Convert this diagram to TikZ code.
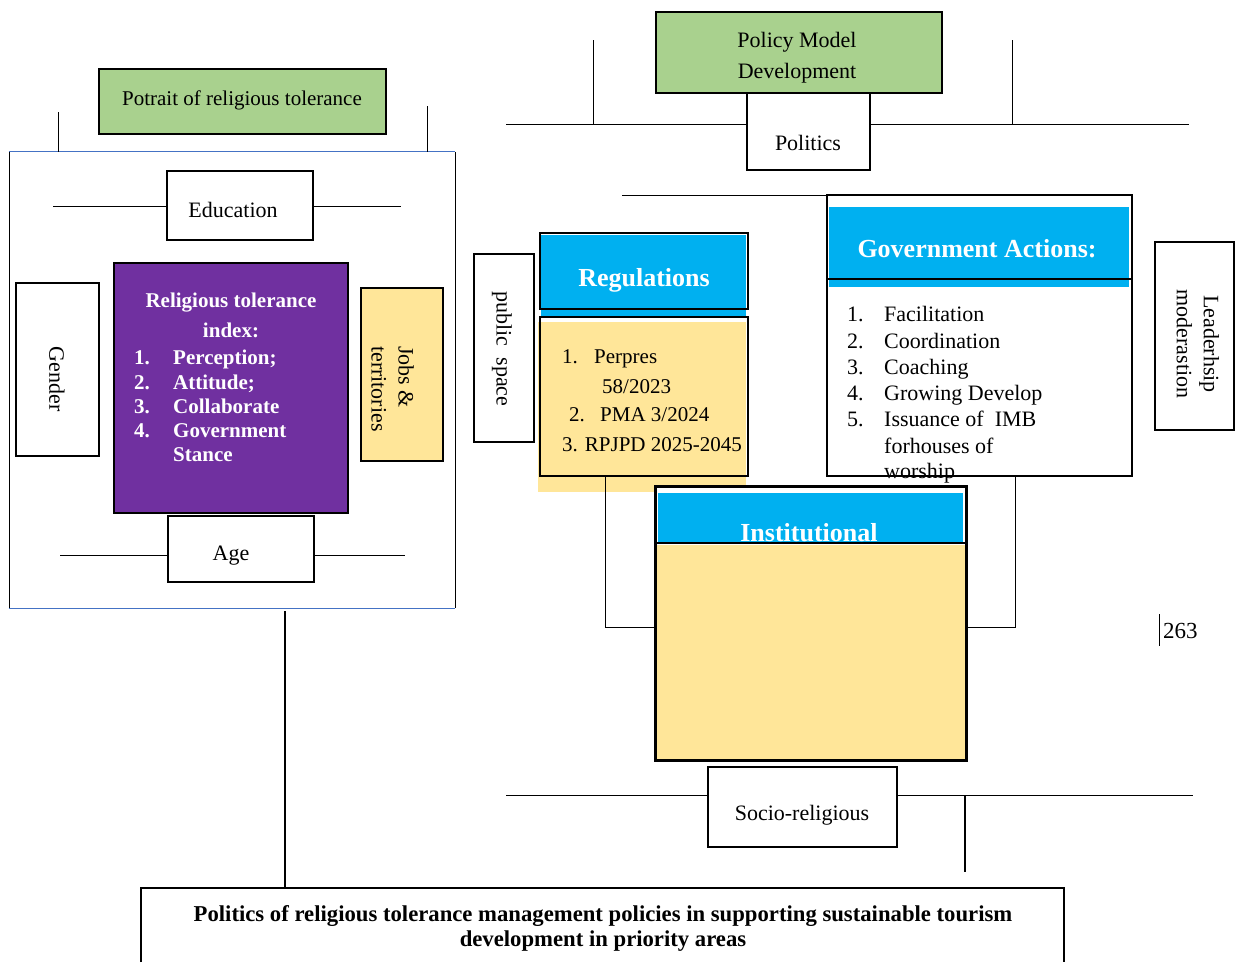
\documentclass[tikz,border=0pt]{standalone}
\usepackage{fontspec}
\setmainfont{Liberation Serif}
\definecolor{tgreen}{HTML}{A9D18E}
\definecolor{tpurple}{HTML}{7030A0}
\definecolor{tyellow}{HTML}{FFE699}
\definecolor{tblue}{HTML}{00B0F0}
\definecolor{tframe}{HTML}{4472C4}
\begin{document}
\begin{tikzpicture}[x=1pt,y=-1pt,
  box/.style={draw=black, line width=1.6pt, inner sep=0pt},
  conn/.style={line width=0.8pt, black},
  txt/.style={inner sep=0pt, font=\fontsize{22}{27}\selectfont},
  txtl/.style={inner sep=0pt, anchor=base west, font=\fontsize{22}{27}\selectfont},
  btxt/.style={inner sep=0pt, text=white, font=\bfseries\fontsize{26}{30}\selectfont},
  ptxt/.style={inner sep=0pt, text=white, anchor=base west, font=\bfseries\fontsize{21}{24}\selectfont}]
\useasboundingbox (0,0) rectangle (1236,962);
\fill[white] (0,0) rectangle (1236,962);

% ---------------- left part ----------------
\node[box, fill=tgreen, minimum width=287, minimum height=65] (potrait) at (242.5,101.5) {};
\node[txt, font=\fontsize{21}{25}\selectfont] (potraitT) at (242,100) {Potrait of religious tolerance};

\node[minimum width=446, minimum height=456, inner sep=0pt] (frame) at (232,380) {};
\draw[tframe, line width=0.8pt] (frame.north west) -- (frame.north east);
\draw[tframe, line width=0.8pt] (frame.south west) -- (frame.south east);
\draw[conn, line width=0.6pt] (frame.north west) -- (frame.south west);
\draw[conn, line width=0.6pt] (frame.north east) -- (frame.south east);
\coordinate (tk1) at (58,112);
\coordinate (tk2) at (427,106);
\draw[conn] (tk1) -- (tk1 |- frame.north);
\draw[conn] (tk2) -- (tk2 |- frame.north);

\node[box, fill=white, minimum width=146, minimum height=69] (edu) at (240,205.5) {};
\node[txt] (eduT) at (233,210) {Education};
\coordinate (el) at (53,206);
\coordinate (er) at (401,206);
\draw[conn] (el) -- (el -| edu.west);
\draw[conn] (edu.east |- er) -- (er);

\node[box, fill=tpurple, minimum width=234, minimum height=250] (idx) at (231,388) {};
\node[inner sep=0pt, text=white, font=\bfseries\fontsize{21}{24}\selectfont, anchor=base] (idxT1) at (231,307) {Religious tolerance};
\node[inner sep=0pt, text=white, font=\bfseries\fontsize{21}{24}\selectfont, anchor=base] (idxT2) at (231,337) {index:};
\node[ptxt] (i1n) at (134,364) {1.};
\node[ptxt] (i1) at (173,364) {Perception;};
\node[ptxt] (i2n) at (134,389) {2.};
\node[ptxt] (i2) at (173,389) {Attitude;};
\node[ptxt] (i3n) at (134,413) {3.};
\node[ptxt] (i3) at (173,413) {Collaborate};
\node[ptxt] (i4n) at (134,437) {4.};
\node[ptxt] (i4) at (173,437) {Government};
\node[ptxt] (i5) at (173,461) {Stance};

\node[box, fill=white, minimum width=83, minimum height=173] (gender) at (57.5,369.5) {};
\node[txt, rotate=-90] (genderT) at (57,379) {Gender};

\node[box, fill=tyellow, minimum width=82, minimum height=173] (jobs) at (402,374.5) {};
\node[txt, rotate=-90, align=left, anchor=north west, font=\fontsize{22}{27}\selectfont] (jobsT) at (414,346) {Jobs \&\\territories};

\node[box, fill=white, minimum width=146, minimum height=66] (age) at (241,549) {};
\node[txt] (ageT) at (231,556) {Age};
\coordinate (al) at (60,555);
\coordinate (ar) at (405,555);
\draw[conn] (al) -- (al -| age.west);
\draw[conn] (age.east |- ar) -- (ar);

% ---------------- bottom box ----------------
\node[minimum width=923, minimum height=74, inner sep=0pt] (goal) at (602.5,925) {};
\draw[line width=1.8pt] (goal.south west) -- (goal.north west) -- (goal.north east) -- (goal.south east);
\node[inner sep=0pt, align=center, font=\bfseries\fontsize{22.7}{25}\selectfont] (goalT) at (603,928)
  {Politics of religious tolerance management policies in supporting sustainable tourism\\development in priority areas};
\coordinate (v1) at (285,611);
\draw[line width=1.6pt] (v1) -- (v1 |- goal.north);

% ---------------- top right ----------------
\coordinate (pl) at (506,124);
\coordinate (pr) at (1189,124);
\coordinate (vl) at (593,40);
\coordinate (vr) at (1012,40);
\draw[conn] (vl) -- (vl |- pl);
\draw[conn] (vr) -- (vr |- pr);
\node[box, fill=tgreen, minimum width=286, minimum height=81] (policy) at (799,52.5) {};
\node[txt, align=center, font=\fontsize{22}{31}\selectfont] (policyT) at (797,58) {Policy Model\\Development};
\node[box, fill=white, minimum width=123, minimum height=77] (politics) at (808.5,131.5) {};
\node[txt] (politicsT) at (808,143) {Politics};
\draw[conn] (pl) -- (pl -| politics.west);
\draw[conn] (politics.east |- pr) -- (pr);

% ---------------- regulations ----------------
\fill[tyellow] (538,322) rectangle (746,492);
\fill[tblue] (541,235) rectangle (746,317);
\node[box, minimum width=208, minimum height=76] (reghead) at (644,271) {};
\node[box, minimum width=208, minimum height=159] (regbody) at (644,396.5) {};
\node[btxt] (regT) at (644,280) {Regulations};
\node[txtl, font=\fontsize{21}{25}\selectfont] (r1n) at (562,363) {1.};
\node[txtl, font=\fontsize{21}{25}\selectfont] (r1) at (594,363) {Perpres};
\node[txtl, font=\fontsize{21}{25}\selectfont] (r1b) at (602,393) {58/2023};
\node[txtl, font=\fontsize{21}{25}\selectfont] (r2n) at (569,421) {2.};
\node[txtl, font=\fontsize{21}{25}\selectfont] (r2) at (600,421) {PMA 3/2024};
\node[txtl, font=\fontsize{21}{25}\selectfont] (r3) at (562,451) {3. RPJPD 2025-2045};

\node[box, fill=white, minimum width=60, minimum height=188] (pub) at (504,348) {};
\node[txt, rotate=-90] (pubT) at (502,349) {public\ \ space};

% ---------------- government actions ----------------
\coordinate (gl) at (622,195);
\node[box, fill=white, minimum width=305, minimum height=281] (gov) at (979.5,335.5) {};
\draw[conn] (gl) -- (gl -| gov.west);
\fill[tblue] (829,207) rectangle (1129,287);
\draw[line width=1.6pt] (gov.west |- 0,279) -- (gov.east |- 0,279);
\node[btxt] (govT) at (977,249) {Government Actions:};
\node[txtl] (g1n) at (847,321) {1.};
\node[txtl] (g1) at (884,321) {Facilitation};
\node[txtl] (g2n) at (847,348) {2.};
\node[txtl] (g2) at (884,348) {Coordination};
\node[txtl] (g3n) at (847,374) {3.};
\node[txtl] (g3) at (884,374) {Coaching};
\node[txtl] (g4n) at (847,400) {4.};
\node[txtl] (g4) at (884,400) {Growing Develop};
\node[txtl] (g5n) at (847,426) {5.};
\node[txtl] (g5) at (884,426) {Issuance of\ \ IMB};
\node[txtl] (g6) at (884,453) {forhouses of};
\node[txtl] (g7) at (884,478) {worship};

\node[box, fill=white, minimum width=79, minimum height=188] (lead) at (1194.5,336) {};
\node[txt, rotate=-90, align=center] (leadT) at (1198,344) {Leaderhsip\\moderastion};

% ---------------- institutional ----------------
\node[box, fill=white, minimum width=310, minimum height=273] (inst) at (811,623.5) {};
\fill[tblue] (658,493) rectangle (963,543);
\node[btxt, anchor=base] (instT) at (809,541.5) {Institutional};
\fill[tyellow] (657,545) rectangle (965,759);
\draw[line width=1.6pt] (inst.west |- 0,543) -- (inst.east |- 0,543);
\draw[line width=1.6pt] (inst.north west) rectangle (inst.south east);

\coordinate (c1) at (605,627);
\coordinate (c2) at (1015,627);
\draw[conn] (regbody.south -| c1) -- (c1) -- (c1 -| inst.west);
\draw[conn] (gov.south -| c2) -- (c2) -- (c2 -| inst.east);

% ---------------- page number ----------------
\node[inner sep=0pt, anchor=west, font=\fontsize{23}{27}\selectfont] (pg) at (1163,631) {263};
\coordinate (pgt) at (1159,614);
\coordinate (pgb) at (1159,646);
\draw[conn] (pgt) -- (pgb);

% ---------------- socio-religious ----------------
\node[box, fill=white, minimum width=189, minimum height=80] (socio) at (802.5,807) {};
\node[txt] (socioT) at (802,815) {Socio-religious};
\coordinate (sl) at (506,795);
\coordinate (sr) at (1193,795);
\coordinate (sv) at (965,872);
\draw[conn] (sl) -- (sl -| socio.west);
\draw[conn] (socio.east |- sr) -- (sr);
\draw[line width=1.2pt] (sv |- sr) -- (sv);
\end{tikzpicture}
\end{document}
